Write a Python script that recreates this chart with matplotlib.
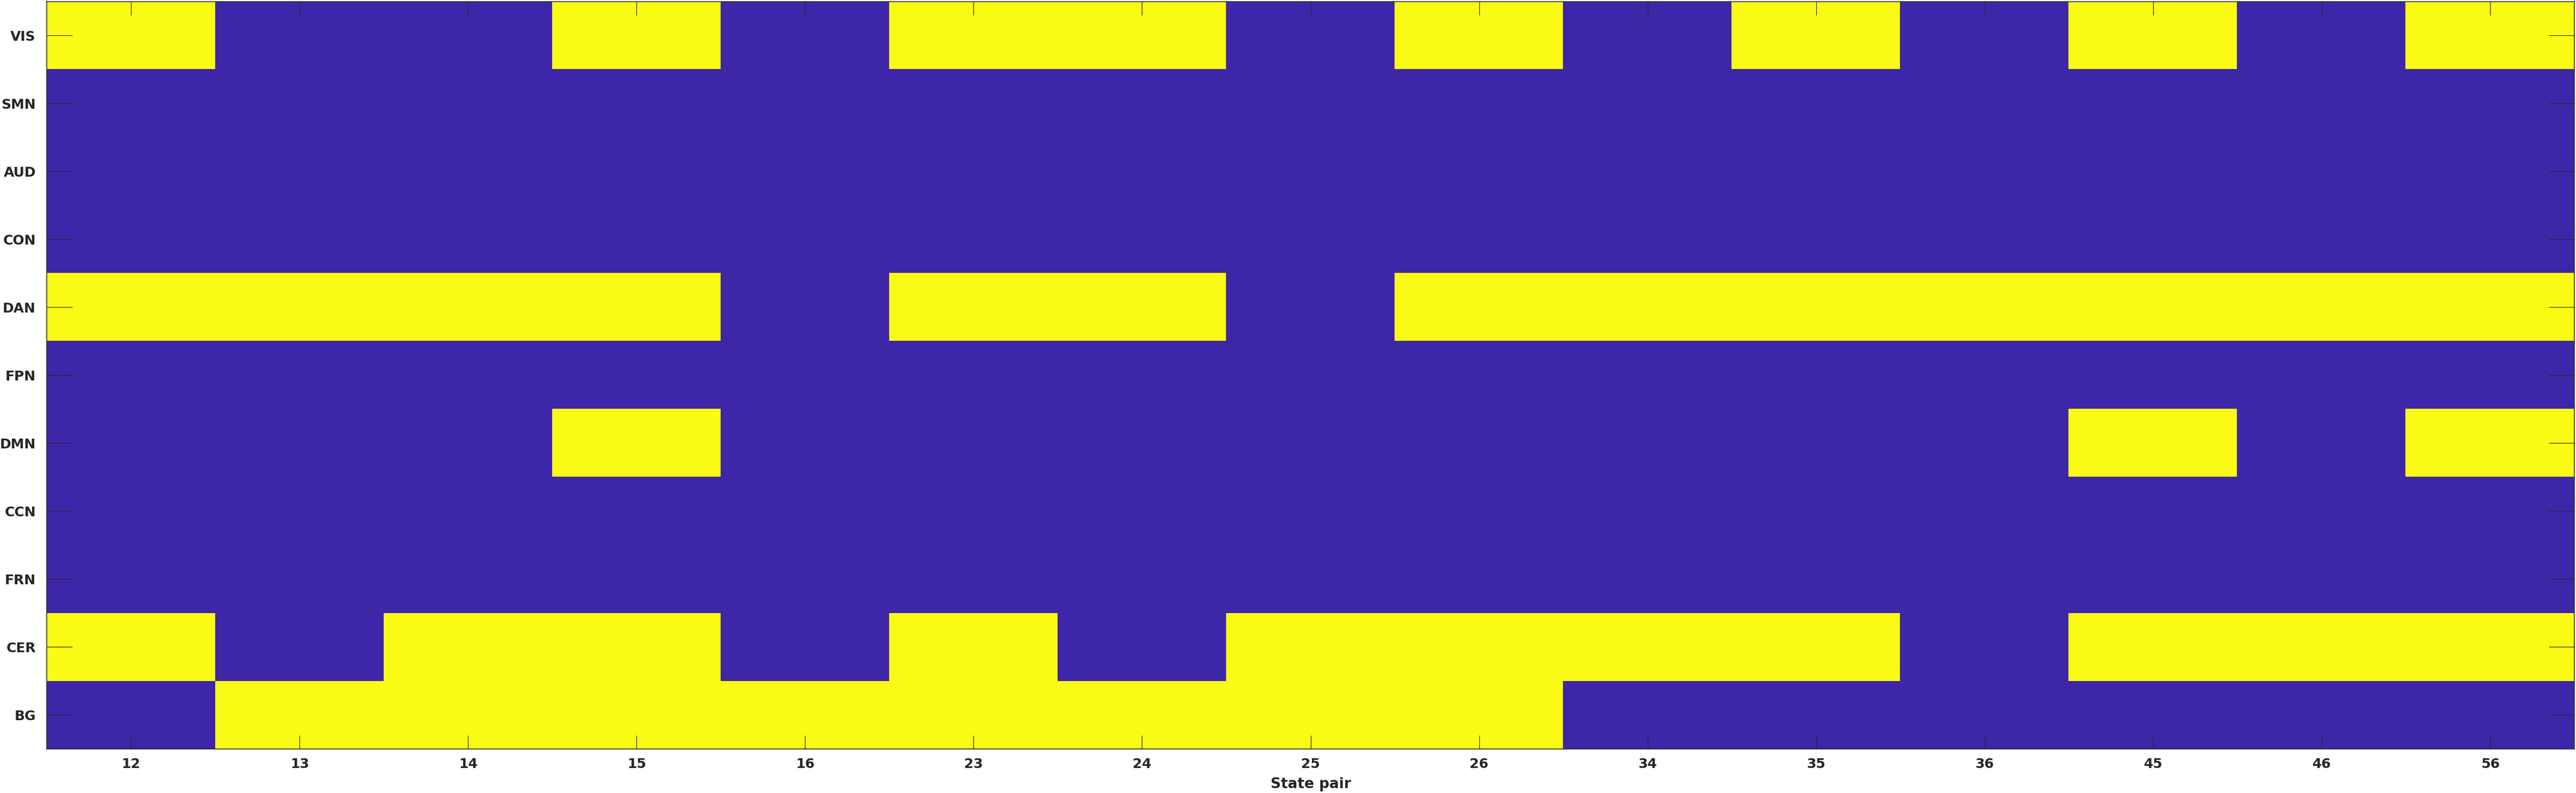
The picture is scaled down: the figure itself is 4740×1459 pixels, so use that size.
import numpy as np
import matplotlib.pyplot as plt
from matplotlib.colors import ListedColormap

# Pares de estados y redes
pares = ["12", "13", "14", "15", "16", "23", "24", "25", "26", "34", "35", "36", "45", "46", "56"]
redes = ["VIS", "SMN", "AUD", "CON", "DAN", "FPN", "DMN", "CCN", "FRN", "CER", "BG"]

VIS = [1, 0, 0, 1, 0, 1, 1, 0, 1, 0, 1, 0, 1, 0, 1]
SMN = [0] * 15
AUD = [0] * 15
CON = [0] * 15
DAN = [1, 1, 1, 1, 0, 1, 1, 0, 1, 1, 1, 1, 1, 1, 1]
FPN = [0] * 15
DMN = [0, 0, 0, 1, 0, 0, 0, 0, 0, 0, 0, 0, 1, 0, 1]
CCN = [0] * 15
FRN = [0] * 15
CER = [1, 0, 1, 1, 0, 1, 0, 1, 1, 1, 1, 0, 1, 1, 1]
BG = [0, 1, 1, 1, 1, 1, 1, 1, 1, 0, 0, 0, 0, 0, 0]

matriz = np.array([VIS, SMN, AUD, CON, DAN, FPN, DMN, CCN, FRN, CER, BG])

# Colores tipo parula (extremos)
cmap = ListedColormap(["#3e26a8", "#f9fb14"])
gris = "#262626"

fig = plt.figure(figsize=(47.4, 14.59), dpi=100)
ax = fig.add_axes([86 / 4740, 1 - 1378 / 1459, (4737 - 86) / 4740, (1378 - 2.5) / 1459])
ax.imshow(matriz, cmap=cmap, vmin=0, vmax=1, aspect="auto", interpolation="nearest")

ax.set_xticks(np.arange(len(pares)))
ax.set_xticklabels(pares, fontsize=18, fontweight="bold", color=gris)
ax.set_yticks(np.arange(len(redes)))
ax.set_yticklabels(redes, fontsize=18, fontweight="bold", color=gris)
# Longitudes en puntos (dpi 100 -> 0.72 pt por pixel)
ax.tick_params(axis="x", direction="in", length=18, width=0.8, color=gris,
               top=True, bottom=True, pad=11.5)
ax.tick_params(axis="y", direction="in", length=34, width=0.8, color=gris,
               left=True, right=True, pad=14.4)
ax.set_xlabel("State pair", fontsize=19, fontweight="bold", color=gris, labelpad=8.6)

for s in ax.spines.values():
    s.set_color(gris)
    s.set_linewidth(1.1)

plt.savefig("out.png", dpi=100)
